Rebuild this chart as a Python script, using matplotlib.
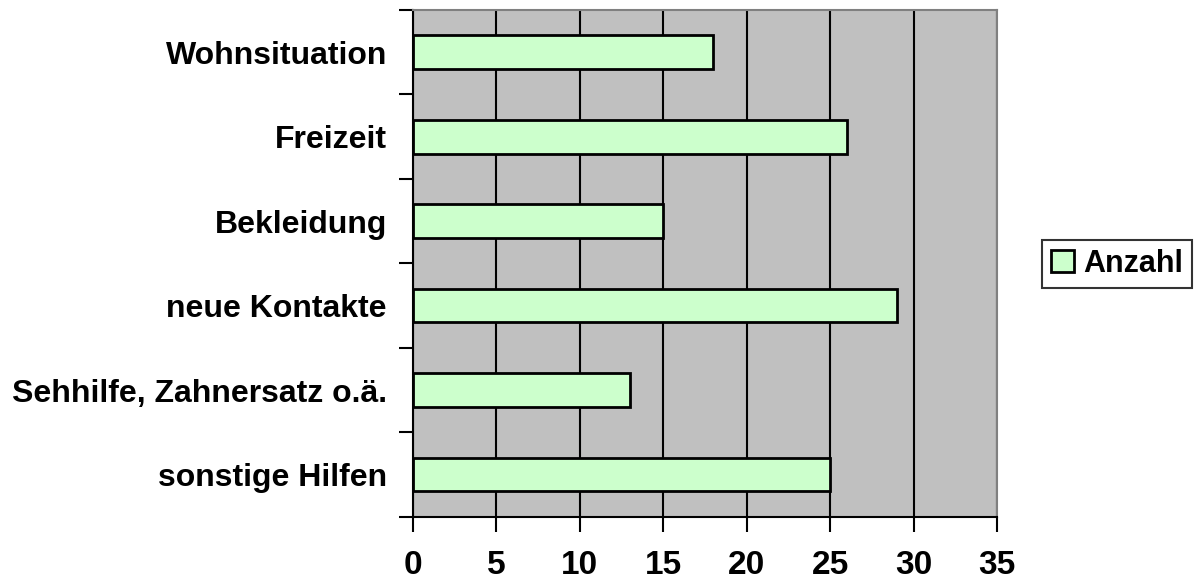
import numpy as np
import matplotlib.pyplot as plt
from matplotlib.ticker import FixedLocator

categories = ["Wohnsituation", "Freizeit", "Bekleidung", "neue Kontakte",
              "Sehhilfe, Zahnersatz o.ä.", "sonstige Hilfen"]
anzahl = [18, 26, 15, 29, 13, 25]
xticks = [0, 5, 10, 15, 20, 25, 30, 35]

plt.rcParams['font.family'] = ['Liberation Sans', 'DejaVu Sans']
plt.rcParams['font.weight'] = 'bold'

fig = plt.figure(figsize=(11.96, 5.81), dpi=100)
ax = fig.add_axes([0.345, 0.1107, 0.4888, 0.8721])
ax.set_facecolor('#C0C0C0')

n = len(categories)
pos = np.arange(n)[::-1]
ax.barh(pos, anzahl, height=0.4, color='#CCFFCC', edgecolor='black',
        linewidth=2, label='Anzahl', zorder=3)

ax.set_xlim(0, 35)
ax.set_ylim(-0.5, n - 0.5)
ax.set_xticks(xticks)
ax.set_xticklabels([str(t) for t in xticks], fontsize=24, fontweight='bold')
ax.set_yticks(pos)
ax.set_yticklabels(categories, fontsize=23, fontweight='bold')
ax.yaxis.set_minor_locator(FixedLocator(np.arange(-0.5, n, 1.0)))
ax.tick_params(axis='y', which='major', length=0, pad=18.5)
ax.tick_params(axis='y', which='minor', length=10, width=1.5, color='black')
ax.tick_params(axis='x', length=11, width=1.5, pad=13)

ax.grid(axis='x', color='black', linewidth=1.5, zorder=1)
ax.set_axisbelow(True)
for s in ['top', 'right']:
    ax.spines[s].set_color('#808080')
    ax.spines[s].set_linewidth(1.5)
for s in ['left', 'bottom']:
    ax.spines[s].set_linewidth(1.5)

leg = fig.legend(loc='center', bbox_to_anchor=(0.934, 0.546), fontsize=22,
                 frameon=True, fancybox=False, edgecolor='black',
                 handlelength=0.75, handleheight=0.75, handletextpad=0.3,
                 borderpad=0.3, borderaxespad=0)
leg.get_frame().set_linewidth(1.5)
for t in leg.get_texts():
    t.set_fontweight('bold')

plt.savefig('out.png', dpi=100)
